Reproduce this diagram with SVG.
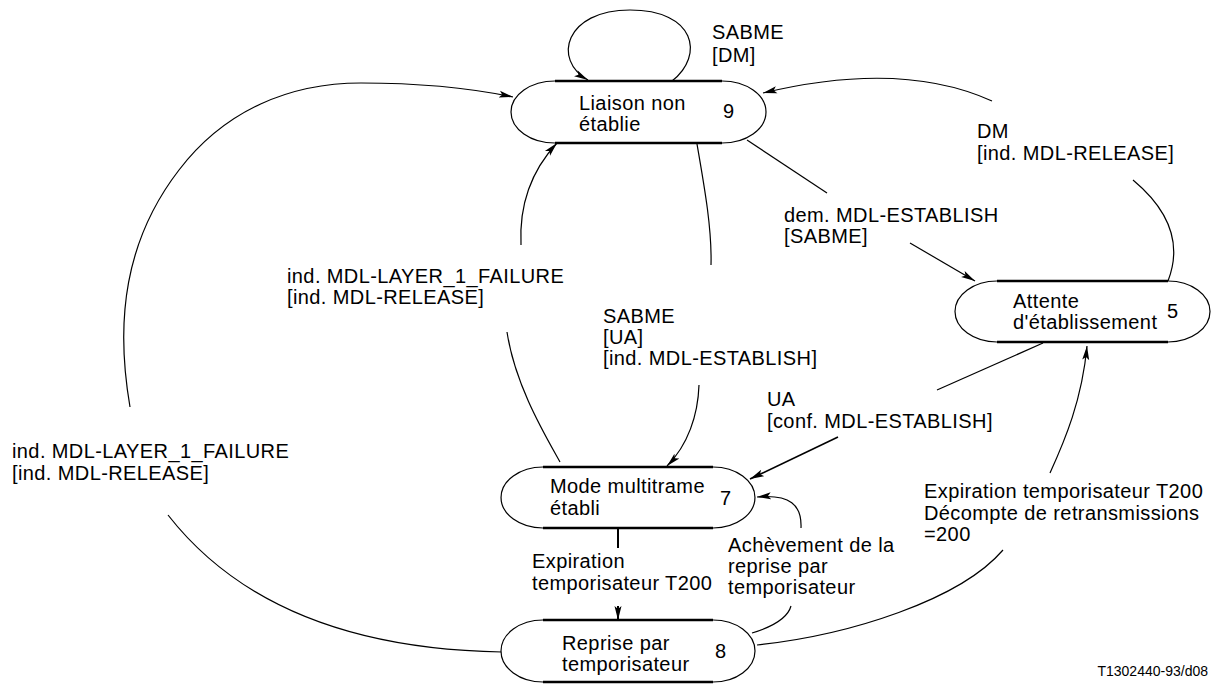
<svg xmlns="http://www.w3.org/2000/svg" width="1212" height="686" viewBox="0 0 1212 686">
<style>
text{font-family:"Liberation Sans",Arial,sans-serif;font-size:20px;letter-spacing:0.4px;fill:#000}
.c{fill:none;stroke:#000;stroke-width:1.2}
.arc{fill:none;stroke:#000;stroke-width:1.2}
.bar{fill:none;stroke:#000;stroke-width:2.6}
.bg{fill:#fff;stroke:none}
.small{font-size:14px;letter-spacing:0}
</style>
<defs>
<marker id="ah" markerWidth="15" markerHeight="9" refX="14" refY="4.5" orient="auto" markerUnits="userSpaceOnUse">
<path d="M0,1 L14,4.5 L0,8 L3,4.5 z" fill="#000"/>
</marker>
</defs>
<rect width="1212" height="686" fill="#fff"/>

<g id="connectors">
<path class="c" d="M 672 81 C 705 55, 695 10, 630 10 C 565 10, 552 60, 588 80" marker-end="url(#ah)"/>
<path class="c" d="M 502 652 C 380 650, 250 620, 168 515"/>
<path class="c" d="M 130 407 C 115 320, 125 240, 179 170 C 225 110, 290 83, 361 83 C 420 83, 470 88, 513 97" marker-end="url(#ah)"/>
<path class="c" d="M 560 462 C 545 435, 515 385, 507 332"/>
<path class="c" d="M 521 245 C 519 205, 532 170, 557 143" marker-end="url(#ah)"/>
<path class="c" d="M 697 144 C 705 190, 712 230, 711 265"/>
<path class="c" d="M 699 385 C 698 415, 688 445, 667 466" marker-end="url(#ah)"/>
<path class="c" d="M 747 140 L 827 193"/>
<path class="c" d="M 910 243 L 975 281" marker-end="url(#ah)"/>
<path class="c" d="M 1168 281 C 1180 250, 1175 215, 1133 180"/>
<path class="c" d="M 992 101 C 950 82, 880 65, 763 93" marker-end="url(#ah)"/>
<path class="c" d="M 1043 343 L 937 390"/>
<path class="c" d="M 838 437 L 750 479" marker-end="url(#ah)" style="stroke-width:1.6"/>
<path class="c" d="M 752 633 C 775 626, 788 617, 791 606"/>
<path class="c" d="M 801 528 C 802 505, 790 494, 757 497" marker-end="url(#ah)"/>
<path class="c" d="M 618 528 V 548" style="stroke-width:2"/>
<path class="c" d="M 618 606 V 620" style="stroke-width:2" marker-end="url(#ah)"/>
<path class="c" d="M 757 645 C 850 635, 960 600, 1003 550"/>
<path class="c" d="M 1050 473 C 1065 440, 1082 400, 1087 346" marker-end="url(#ah)"/>
</g>

<g id="node9">
<path class="bg" d="M 555 81 H 722 A 44 31 0 0 1 722 143 H 555 A 44 31 0 0 1 555 81 z"/>
<path class="arc" d="M 555 81 A 44 31 0 0 0 555 143 M 722 81 A 44 31 0 0 1 722 143"/>
<path class="bar" d="M 555 81 H 722 M 555 143 H 722"/>
<text x="579" y="110">Liaison non</text>
<text x="579" y="131">établie</text>
<text x="723" y="118">9</text>
</g>

<g id="node5">
<path class="bg" d="M 997 281 H 1168 A 42 30.5 0 0 1 1168 342 H 997 A 42 30.5 0 0 1 997 281 z"/>
<path class="arc" d="M 997 281 A 42 30.5 0 0 0 997 342 M 1168 281 A 42 30.5 0 0 1 1168 342"/>
<path class="bar" d="M 997 281 H 1168 M 997 342 H 1168"/>
<text x="1013" y="308">Attente</text>
<text x="1013" y="329">d'établissement</text>
<text x="1167" y="318">5</text>
</g>

<g id="node7">
<path class="bg" d="M 543 467 H 713 A 42 30.5 0 0 1 713 528 H 543 A 42 30.5 0 0 1 543 467 z"/>
<path class="arc" d="M 543 467 A 42 30.5 0 0 0 543 528 M 713 467 A 42 30.5 0 0 1 713 528"/>
<path class="bar" d="M 543 467 H 713 M 543 528 H 713"/>
<text x="550" y="493">Mode multitrame</text>
<text x="550" y="515">établi</text>
<text x="720" y="505">7</text>
</g>

<g id="node8">
<path class="bg" d="M 543 620 H 713 A 42 31 0 0 1 713 682 H 543 A 42 31 0 0 1 543 620 z"/>
<path class="arc" d="M 543 620 A 42 31 0 0 0 543 682 M 713 620 A 42 31 0 0 1 713 682"/>
<path class="bar" d="M 543 620 H 713 M 543 682 H 713"/>
<text x="562" y="650">Reprise par</text>
<text x="562" y="671">temporisateur</text>
<text x="715" y="658">8</text>
</g>

<g id="labels">
<text x="712" y="39">SABME</text>
<text x="712" y="62">[DM]</text>
<text x="977" y="138">DM</text>
<text x="977" y="160">[ind. MDL-RELEASE]</text>
<text x="784" y="222">dem. MDL-ESTABLISH</text>
<text x="784" y="243">[SABME]</text>
<text x="287" y="283">ind. MDL-LAYER_1_FAILURE</text>
<text x="287" y="304">[ind. MDL-RELEASE]</text>
<text x="603" y="323">SABME</text>
<text x="603" y="344">[UA]</text>
<text x="603" y="365">[ind. MDL-ESTABLISH]</text>
<text x="767" y="406">UA</text>
<text x="767" y="428">[conf. MDL-ESTABLISH]</text>
<text x="12" y="458">ind. MDL-LAYER_1_FAILURE</text>
<text x="12" y="480">[ind. MDL-RELEASE]</text>
<text x="532" y="568">Expiration</text>
<text x="532" y="590">temporisateur T200</text>
<text x="728" y="552">Achèvement de la</text>
<text x="728" y="573">reprise par</text>
<text x="728" y="594">temporisateur</text>
<text x="924" y="498">Expiration temporisateur T200</text>
<text x="924" y="520">Décompte de retransmissions</text>
<text x="924" y="541">=200</text>
<text class="small" x="1208" y="676" text-anchor="end">T1302440-93/d08</text>
</g>
</svg>
